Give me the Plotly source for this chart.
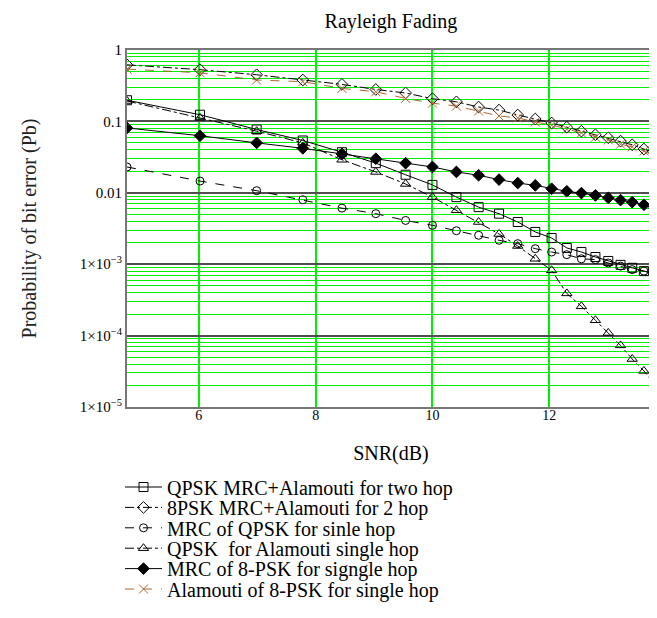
import plotly.graph_objects as go

# SNR values (dB) at which every curve is sampled
snr_db = [4.77, 6.02, 6.99, 7.78, 8.45, 9.03, 9.54, 10.00, 10.41, 10.79, 11.14,
          11.46, 11.76, 12.04, 12.30, 12.55, 12.79, 13.01, 13.22, 13.42, 13.62, 13.80]

qpsk_mrc_alamouti_2hop = [0.198, 0.124, 0.077, 0.054, 0.037, 0.026, 0.0179, 0.0129, 0.0087, 0.0063, 0.0051,
                          0.0039, 0.00283, 0.00233, 0.00169, 0.00148, 0.00126, 0.00111, 0.00098, 0.00089, 0.00080, 0.00073]
psk8_mrc_alamouti_2hop = [0.62, 0.53, 0.45, 0.38, 0.33, 0.28, 0.25, 0.208, 0.188, 0.159, 0.144,
                          0.123, 0.108, 0.095, 0.083, 0.073, 0.065, 0.059, 0.053, 0.047, 0.041, 0.036]
mrc_qpsk_single = [0.023, 0.0146, 0.0107, 0.0080, 0.0061, 0.0051, 0.0041, 0.0035, 0.00294, 0.00254, 0.00216,
                   0.00194, 0.00165, 0.00148, 0.00136, 0.00119, 0.00116, 0.00104, 0.00094, 0.00084, 0.00080, 0.00075]
qpsk_alamouti_single = [0.193, 0.112, 0.073, 0.050, 0.029, 0.0196, 0.0133, 0.0087, 0.0057, 0.0039, 0.00265,
                        0.0018, 0.00119, 0.00082, 0.00039, 0.000257, 0.000164, 0.000109, 7.3e-5, 4.7e-5, 3.2e-5, 2.1e-5]
mrc_8psk_single = [0.081, 0.063, 0.050, 0.042, 0.035, 0.030, 0.026, 0.023, 0.0196, 0.0176, 0.0153,
                   0.0137, 0.0127, 0.0114, 0.0105, 0.0099, 0.0092, 0.0085, 0.0079, 0.0074, 0.0068, 0.0061]
alamouti_8psk_single = [0.54, 0.48, 0.38, 0.36, 0.29, 0.26, 0.21, 0.18, 0.164, 0.14, 0.119,
                        0.112, 0.098, 0.089, 0.078, 0.069, 0.060, 0.055, 0.048, 0.044, 0.0385, 0.033]

series_names = ["QPSK MRC+Alamouti for two hop",
                "8PSK MRC+Alamouti for 2 hop",
                "MRC of QPSK for sinle hop",
                "QPSK\u00a0 for Alamouti single hop",
                "MRC of 8-PSK for signgle hop",
                "Alamouti of 8-PSK for single hop"]

x_tick_vals = [6, 8, 10, 12]
y_tick_vals = [1, 0.1, 0.01, 1e-3, 1e-4, 1e-5]
y_tick_text = ["1", "0.1", "0.01", "1\u00d710<sup>\u2212</sup><sup>3</sup>",
               "1\u00d710<sup>\u2212</sup><sup>4</sup>", "1\u00d710<sup>\u2212</sup><sup>5</sup>"]

SERIF = "Liberation Serif, Times New Roman, serif"
BROWN = "#b0662e"
GREEN = "#00f000"
FIG_W, FIG_H = 657, 618
PLOT_L, PLOT_R, PLOT_T, PLOT_B = 119, 647, 42, 399

styles = [
    dict(data=qpsk_mrc_alamouti_2hop, color="black", dash="solid", symbol="square-open", size=9),
    dict(data=psk8_mrc_alamouti_2hop, color="black", dash="dashdot", symbol="diamond-open", size=9),
    dict(data=mrc_qpsk_single, color="black", dash="dash", symbol="circle-open", size=8),
    dict(data=qpsk_alamouti_single, color="black", dash="dashdot", symbol="triangle-up-open", size=9),
    dict(data=mrc_8psk_single, color="black", dash="solid", symbol="diamond", size=9),
    dict(data=alamouti_8psk_single, color=BROWN, dash="dash", symbol="x-thin-open", size=9),
]

fig = go.Figure()
legend_layouts = {}
for i, (name, st) in enumerate(zip(series_names, styles)):
    lg = "legend" if i == 0 else f"legend{i + 1}"
    fig.add_trace(go.Scatter(
        x=snr_db, y=st["data"], name=name, mode="lines+markers", legend=lg,
        line=dict(color=st["color"], width=1, dash=st["dash"]),
        marker=dict(symbol=st["symbol"], size=st["size"], color=st["color"],
                    line=dict(color=st["color"], width=1)),
    ))
    row_center = 479 + 20.4 * i
    legend_layouts[lg] = dict(
        x=-7 / (PLOT_R - PLOT_L), xanchor="left",
        yref="container", y=1 - row_center / FIG_H, yanchor="middle",
        font=dict(size=20, family=SERIF, color="black"),
        itemwidth=37, bgcolor="rgba(0,0,0,0)", borderwidth=0)

minor_vals = [m * 10 ** e for e in range(-5, 0) for m in range(2, 10)]

fig.update_layout(
    width=FIG_W, height=FIG_H,
    margin=dict(l=PLOT_L, r=FIG_W - PLOT_R, t=PLOT_T, b=FIG_H - PLOT_B, autoexpand=False),
    paper_bgcolor="white", plot_bgcolor="white",
    font=dict(family=SERIF, color="black"),
    title=dict(text="Rayleigh Fading", x=(PLOT_L + PLOT_R) / 2 / FIG_W, xanchor="center",
               y=1 - 6 / FIG_H, yanchor="top", font=dict(size=20, family=SERIF, color="black")),
    showlegend=True,
    xaxis=dict(range=[4.77, 13.81], tickvals=x_tick_vals, ticks="", ticklen=0, ticklabelstandoff=-6,
               showgrid=True, gridcolor=GREEN, gridwidth=1.5,
               showline=True, linecolor="#777777", linewidth=2, mirror=True,
               zeroline=False, tickfont=dict(size=14, family=SERIF, color="black"),
               title=dict(text="SNR(dB)", font=dict(size=20, family=SERIF, color="black"), standoff=24)),
    yaxis=dict(type="log", range=[-5, 0], tickvals=y_tick_vals, ticktext=y_tick_text, ticks="", ticklen=0,
               showgrid=True, gridcolor="#505050", gridwidth=1.5,
               minor=dict(tickvals=minor_vals, showgrid=True, gridcolor=GREEN, gridwidth=1, ticks=""),
               showline=True, linecolor="#777777", linewidth=2, mirror=True,
               zeroline=False, tickfont=dict(size=15, family=SERIF, color="black"),
               title=dict(text="Probability of bit error (Pb)", font=dict(size=20, family=SERIF, color="#222222"), standoff=38)),
    **legend_layouts,
)

fig.write_html("out.html")
